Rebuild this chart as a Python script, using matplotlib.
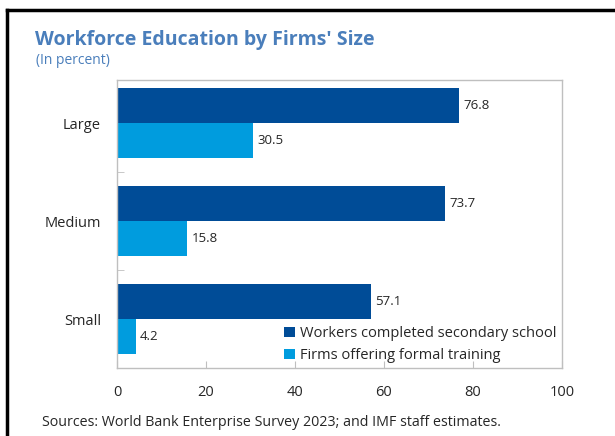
import matplotlib.pyplot as plt
import numpy as np
from matplotlib.lines import Line2D

plt.rcParams['font.family'] = ['Open Sans', 'DejaVu Sans']

sizes = ['Large', 'Medium', 'Small']
secondary = [76.8, 73.7, 57.1]
training = [30.5, 15.8, 4.2]
series_names = ['Workers completed secondary school', 'Firms offering formal training']
xticks = [0, 20, 40, 60, 80, 100]

dark = '#004C97'
light = '#009CDE'
grey = '#BFBFBF'
text_c = '#262626'

fig = plt.figure(figsize=(6.15, 4.36), dpi=100)
ax = fig.add_axes([0.1902, 0.1560, 0.7236, 0.6605])

y = np.arange(len(sizes))
h = 0.355
b1 = ax.barh(y - h / 2, secondary, height=h, color=dark, label=series_names[0])
b2 = ax.barh(y + h / 2, training, height=h, color=light, label=series_names[1])

for bars, vals in ((b1, secondary), (b2, training)):
    for bar, v in zip(bars, vals):
        ax.text(v + 1, bar.get_y() + bar.get_height() / 2, f'{v:.1f}',
                va='center', ha='left', fontsize=9.5, color=text_c)

ax.set_xlim(0, 100)
ax.set_ylim(2.5, -0.44)
ax.set_xticks(xticks)
ax.set_xticklabels([str(t) for t in xticks], fontsize=10.5, color=text_c)
ax.set_yticks(y)
ax.set_yticklabels(sizes, fontsize=10.5, color=text_c)
ax.tick_params(axis='x', direction='in', length=5, color=grey, pad=12)
ax.tick_params(axis='y', length=0, pad=11.5)
# small separators between the size groups
ax.set_yticks([0.5, 1.5], minor=True)
ax.tick_params(axis='y', which='minor', direction='in', length=5, color=grey)
for s in ax.spines.values():
    s.set_color(grey)
    s.set_linewidth(1)

ax.legend(loc='lower right', bbox_to_anchor=(1.0, 0.0), frameon=False,
          fontsize=10.5, handlelength=0.7, handleheight=0.7, handletextpad=0.4,
          labelspacing=0.45, borderaxespad=0.05, borderpad=0.3,
          labelcolor=text_c)

fig.text(35 / 615, 1 - 40 / 436, "Workforce Education by Firms' Size",
         fontsize=14, fontweight='bold', color='#4A7EBB', va='center')
fig.text(36 / 615, 1 - 61 / 436, '(In percent)', fontsize=10,
         color='#4A7EBB', va='center')
fig.text(42 / 615, 1 - 422 / 436,
         'Sources: World Bank Enterprise Survey 2023; and IMF staff estimates.',
         fontsize=10.3, color=text_c, va='center')

# frame lines on top and left
fig.add_artist(Line2D([7 / 615, 1], [1 - 10 / 436] * 2, color='black', lw=2.5,
                      transform=fig.transFigure))
fig.add_artist(Line2D([7 / 615] * 2, [0, 1 - 10 / 436], color='black', lw=2.5,
                      transform=fig.transFigure))

fig.savefig('out.png', dpi=100)
